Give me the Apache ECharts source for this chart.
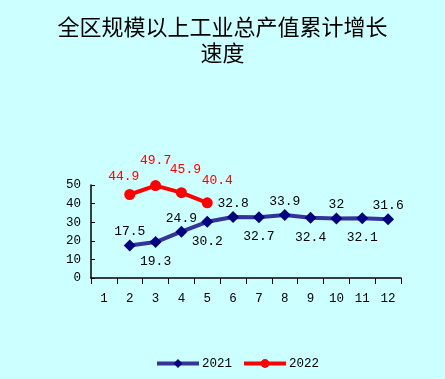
<!DOCTYPE html>
<html><head><meta charset="utf-8">
<script src="https://cdn.jsdelivr.net/npm/echarts@6/dist/echarts.min.js"></script>
<style>html,body{margin:0;padding:0;background:#CCFFFF}#c{width:445px;height:379px}</style>
</head><body><div id="c"></div>
<script>
var titleText = "全区规模以上工业总产值累计增长\n速度";
var months = ["1","2","3","4","5","6","7","8","9","10","11","12"];
var yTicks = [0, 10, 20, 30, 40, 50];
var name2021 = "2021";
var name2022 = "2022";
var values2021 = [null, 17.5, 19.3, 24.9, 30.2, 32.8, 32.7, 33.9, 32.4, 32, 32.1, 31.6];
var values2022 = [null, 44.9, 49.7, 45.9, 40.4];

// label nudges (style only)
var redLabelOffsets = [null, [-6, 4], [0, -3], [4, -1], [10, 0]];

var monoFont = "'Liberation Mono', 'DejaVu Sans Mono', monospace";
var chart = echarts.init(document.getElementById('c'));
var blueData = values2021.map(function (v, i) {
  if (v === null) return null;
  var above = (i % 2 === 1);
  return { value: v, label: { position: above ? 'top' : 'bottom', distance: above ? 1 : 7 } };
});
var redData = values2022.map(function (v, i) {
  if (v === null) return null;
  return { value: v, label: { offset: redLabelOffsets[i] } };
});
chart.setOption({
  backgroundColor: '#CCFFFF',
  animation: false,
  title: {
    text: titleText, left: 'center', top: 9,
    textStyle: { fontFamily: "'Noto Sans CJK SC'", fontSize: 22, fontWeight: 'normal', color: '#000', lineHeight: 26 }
  },
  legend: {
    bottom: 4, left: 150, itemWidth: 42, itemHeight: 11, itemGap: 10,
    lineStyle: { width: 4 },
    textStyle: { fontFamily: monoFont, fontSize: 12.5, color: '#000', padding: [0, 0, 0, -2] },
    data: [name2021, name2022]
  },
  grid: { left: 91, right: 44, top: 185, bottom: 101 },
  xAxis: {
    type: 'category', data: months, boundaryGap: true,
    axisLine: { lineStyle: { color: '#000', width: 1.5 } },
    axisTick: { show: true, length: 6, lineStyle: { color: '#000' } },
    axisLabel: { color: '#000', fontFamily: monoFont, fontSize: 12.5, margin: 14 }
  },
  yAxis: {
    type: 'value', min: yTicks[0], max: yTicks[yTicks.length - 1], interval: 10,
    splitLine: { show: false },
    axisLine: { show: true, lineStyle: { color: '#000', width: 1.5 } },
    axisTick: { show: true, inside: true, length: 4, lineStyle: { color: '#000' } },
    axisLabel: { color: '#000', fontFamily: monoFont, fontSize: 12.5, margin: 10 }
  },
  series: [
    {
      name: name2021, type: 'line', data: blueData, connectNulls: false,
      symbol: 'diamond', symbolSize: 12,
      lineStyle: { color: '#333399', width: 4 },
      itemStyle: { color: '#000080' },
      label: { show: true, color: '#000', fontFamily: monoFont, fontSize: 13 }
    },
    {
      name: name2022, type: 'line', data: redData,
      symbol: 'circle', symbolSize: 11,
      lineStyle: { color: '#FF0000', width: 4 },
      itemStyle: { color: '#FF0000' },
      label: { show: true, position: 'top', distance: 10, color: '#FF0000', fontFamily: monoFont, fontSize: 13 }
    }
  ]
});
</script></body></html>
